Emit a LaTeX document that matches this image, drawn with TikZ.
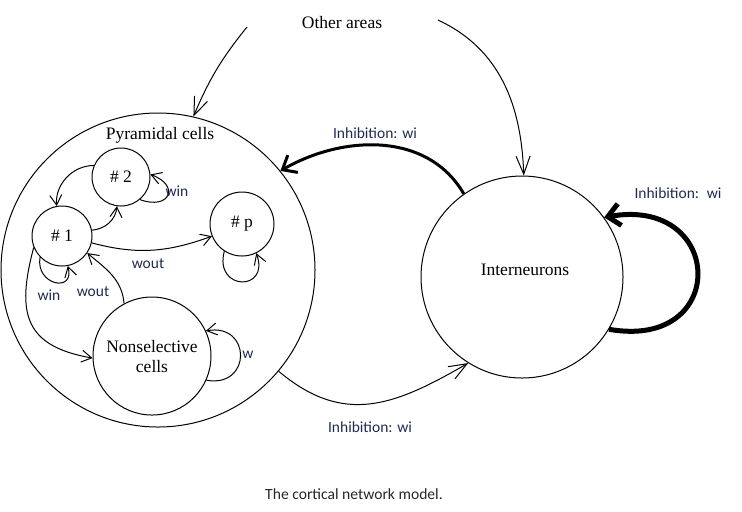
\documentclass[tikz,border=0pt]{standalone}
\usepackage{fontspec}
\setmainfont{Liberation Serif}
\newfontfamily\labfont{Carlito}
\usetikzlibrary{arrows.meta}
\definecolor{labblue}{RGB}{31,42,82}

\begin{document}
\begin{tikzpicture}[x=0.5pt,y=0.5pt,
        font=\fontsize{8.75}{10}\selectfont,
        pop/.style={circle,draw,inner sep=0pt,line width=0.5pt},
        conn/.style={line width=0.5pt,-{Straight Barb[length=5pt,width=6pt]}},
        longconn/.style={line width=0.5pt,-{Straight Barb[length=9pt,width=7pt]}},
        inhib/.style={line width=1.5pt,-{Straight Barb[length=6pt,width=10pt]}},
        selfinhib/.style={line width=2.5pt,-{Straight Barb[length=6pt,width=11pt]}},
        wlab/.style={font=\labfont\fontsize{7.75}{9}\selectfont,text=labblue,inner sep=0pt},
        ]
        \useasboundingbox (0,0) rectangle (742,-511);
        % populations
        \node (pyr) at (158,-270) [pop,minimum size=157pt] {};
        \node (pyrlab) at (160,-135) {Pyramidal cells};
        \node (int) at (522,-277) [pop,minimum size=101pt] {};
        \node (intlab) at (525,-270) {Interneurons};
        \node (n1) at (62,-236) [pop,minimum size=30pt] {\# 1};
        \node (n2) at (121,-177) [pop,minimum size=29pt] {\# 2};
        \node (np) at (242,-224) [pop,minimum size=32pt] {\# p};
        \node (ns) at (152,-356) [pop,minimum size=59pt,align=center] {Nonselective\\cells};
        \node (other) at (342,-23) {Other areas};
        \coordinate (oa1) at (247,-27);
        \coordinate (oa2) at (438,-20);
        % inside the pyramidal pool
        \draw[conn] (n2.157) to[out=180,in=95] (n1.100);
        \draw[conn] (n1.11) to[out=5,in=-95] (n2.262);
        \draw[conn] (n2.-50) to[out=-20,in=-20,looseness=3] (n2.5);
        \draw[conn] (n1.-13) to[out=-15,in=200] (np.202);
        \draw[conn] (n1.224) to[out=260,in=-75,looseness=2.5] (n1.281);
        \draw[conn] (np.237) to[out=255,in=-70,looseness=3.3] (np.296);
        \draw[conn] (ns.118) to[out=95,in=-40] (n1.-34);
        \draw[conn] (n1.202) to[out=255,in=170,looseness=1.4] (ns.182);
        \draw[conn] (ns.-24) to[out=-10,in=10,looseness=2.4] (ns.25);
        % between pools
        \draw[longconn] (oa1) to[bend right=8] (pyr.77);
        \draw[longconn] (oa2) to[out=-25,in=92] (int.89);
        \draw[inhib] (int.125) to[out=120,in=30] (pyr.39);
        \draw[longconn] (pyr.-40.6) to[out=-40,in=210,looseness=1.15] (int.238);
        \draw[selfinhib] (int.-31) to[out=-10,in=10,looseness=2.8] (int.36);
        % weights
        \node (win2) at (177,-191) [wlab] {win};
        \node (wout1) at (148,-264) [wlab] {wout};
        \node (win1) at (49,-295) [wlab] {win};
        \node (wout2) at (93,-292) [wlab] {wout};
        \node (wns) at (248,-355) [wlab] {w};
        \node (inhtop) at (375,-133) [wlab] {Inhibition: wi};
        \node (inhself) at (678,-193) [wlab] {Inhibition:\enspace wi};
        \node (inhbot) at (370,-427) [wlab] {Inhibition: wi};
        \node (caption) at (354,-494) [font=\labfont\fontsize{7.8}{9}\selectfont,text=black!85] {The cortical network model.};
      \end{tikzpicture}
\end{document}
